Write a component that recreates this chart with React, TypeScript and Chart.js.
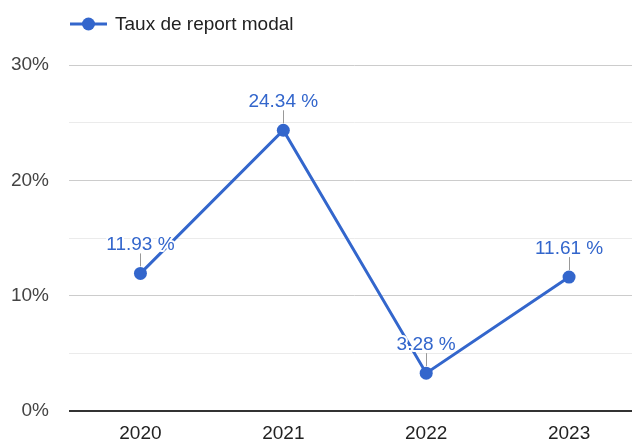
import React, { useEffect, useRef } from "react";
import { Chart, registerables } from "chart.js";

Chart.register(...registerables);

const categories = ["2020", "2021", "2022", "2023"];
const seriesName = "Taux de report modal";
const values = [11.93, 24.34, 3.28, 11.61];
const yMin = 0;
const yMax = 30;
const yStep = 5;

const BLUE = "#3366cc";
const FONT = "Arial, 'Liberation Sans', sans-serif";
const CW = 647;
const CH = 443;

const labelsPlugin = {
  id: "pointLabels",
  afterDatasetsDraw(chart: any) {
    const ctx = chart.ctx;
    const meta = chart.getDatasetMeta(0);
    ctx.save();
    meta.data.forEach((pt: any, i: number) => {
      const x = pt.x;
      const y = pt.y;
      ctx.strokeStyle = "#999";
      ctx.lineWidth = 1;
      ctx.beginPath();
      ctx.moveTo(Math.round(x) + 0.5, y - 7);
      ctx.lineTo(Math.round(x) + 0.5, y - 20);
      ctx.stroke();
      const txt = values[i].toFixed(2) + " %";
      ctx.font = `19px ${FONT}`;
      ctx.textAlign = "center";
      ctx.textBaseline = "alphabetic";
      ctx.lineJoin = "round";
      ctx.strokeStyle = "#fff";
      ctx.lineWidth = 4;
      ctx.strokeText(txt, x, y - 23);
      ctx.fillStyle = BLUE;
      ctx.fillText(txt, x, y - 23);
    });
    ctx.restore();
  },
  afterDraw(chart: any) {
    const ctx = chart.ctx;
    ctx.save();
    const ly = 24;
    ctx.strokeStyle = BLUE;
    ctx.lineWidth = 3;
    ctx.beginPath();
    ctx.moveTo(70, ly);
    ctx.lineTo(107, ly);
    ctx.stroke();
    ctx.fillStyle = BLUE;
    ctx.beginPath();
    ctx.arc(88.5, ly, 6.5, 0, Math.PI * 2);
    ctx.fill();
    ctx.font = `19px ${FONT}`;
    ctx.fillStyle = "#222";
    ctx.textAlign = "left";
    ctx.textBaseline = "middle";
    ctx.fillText(seriesName, 115, ly + 1);
    ctx.restore();
  },
};

export default function App() {
  const ref = useRef<HTMLCanvasElement>(null);
  useEffect(() => {
    if (!ref.current) return;
    const chart = new Chart(ref.current, {
      type: "line",
      data: {
        labels: categories,
        datasets: [
          {
            label: seriesName,
            data: values,
            borderColor: BLUE,
            backgroundColor: BLUE,
            borderWidth: 3,
            pointRadius: 6.5,
            pointHoverRadius: 6.5,
            pointBorderWidth: 0,
            tension: 0,
            clip: false as any,
          },
        ],
      },
      plugins: [labelsPlugin],
      options: {
        animation: false,
        responsive: false,
        maintainAspectRatio: false,
        layout: { padding: { top: 65, right: 0, bottom: 0, left: 0 } },
        plugins: { legend: { display: false }, tooltip: { enabled: false } },
        scales: {
          x: {
            offset: true,
            grid: { display: false, drawTicks: false },
            border: { display: false },
            ticks: { padding: 11, color: "#222", font: { size: 19, family: FONT } },
            afterFit(scale: any) {
              scale.height = 32;
            },
          },
          y: {
            min: yMin,
            max: yMax,
            border: { display: false },
            grid: {
              drawTicks: false,
              color: (c: any) =>
                c.tick.value === 0 ? "#333" : c.tick.value % 10 === 0 ? "#ccc" : "#ebebeb",
              lineWidth: (c: any) => (c.tick.value === 0 ? 2 : 1),
            },
            ticks: {
              stepSize: yStep,
              padding: 20,
              color: "#444",
              font: { size: 19, family: FONT },
              callback: (v: any) => (Number(v) % 10 === 0 ? v + "%" : ""),
            },
            afterFit(scale: any) {
              scale.width = 69;
            },
          },
        },
      },
    });
    return () => chart.destroy();
  }, []);
  return (
    <div style={{ position: "absolute", left: 0, top: 0, width: 632, height: CH, overflow: "hidden", background: "#fff" }}>
      <div style={{ position: "relative", width: CW, minWidth: CW, height: CH }}>
        <canvas ref={ref} width={CW} height={CH} style={{ display: "block", width: CW, height: CH }} />
      </div>
    </div>
  );
}
